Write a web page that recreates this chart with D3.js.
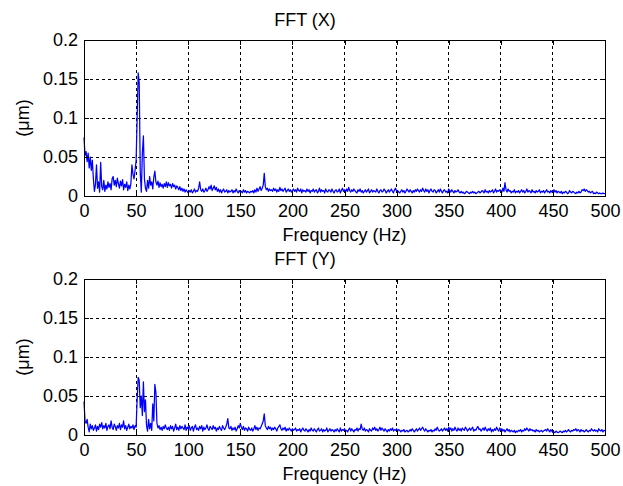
<!DOCTYPE html>
<html>
<head>
<meta charset="utf-8">
<script src="https://cdn.jsdelivr.net/npm/d3@7"></script>
<style>
  html, body { margin: 0; padding: 0; background: #fff; }
  svg { display: block; }
  text { font-family: "Liberation Sans", Arial, sans-serif; fill: #000; }
</style>
</head>
<body>
<svg id="chart" width="623" height="486"></svg>
<script>
// Spectrum amplitudes, one bin per Hz from 0 to 500 Hz, in thousandths of a µm.
const fftX = [
  75,52,57,44,55,36,50,33,46,22, 6,15,40,10,18,5,43,12,8,20,
  6,14,9,18,11,16,8,22,25,14, 20,12,23,16,10,19,13,21,8,15,
  11,18,7,14,9,16,40,28,22,33, 45,100,158,145,30,5,55,77,22,10,
  6,20,10,25,14,18,9,24,32,18, 14,19,11,17,12,15,10,16,12,18,
  11,17,13,15,10,16,12,14,9,13, 11,8,12,7,10,6,9,5,8,6,
  4,7,5,8,4,6,9,5,7,6, 10,18,8,6,9,5,7,10,6,8,
  12,9,14,7,10,13,8,11,6,9, 5,8,4,7,9,5,6,8,4,7,
  5,6,8,4,7,5,9,6,4,7, 5,6,4,8,5,7,4,6,5,4,
  6,5,7,4,8,5,10,6,9,12, 7,10,14,29,12,8,10,6,9,7,
  8,6,10,7,9,5,8,6,11,7, 9,6,8,10,5,7,9,6,8,5,
  7,9,6,8,5,10,7,6,9,4, 8,6,7,5,9,6,8,4,7,6,
  9,5,7,8,4,6,10,5,8,6, 7,4,9,6,5,8,7,5,9,6,
  4,7,8,5,6,9,4,7,10,6, 8,5,9,6,11,7,5,8,6,9,
  7,5,4,8,6,9,5,7,4,6, 8,5,7,9,4,6,8,5,7,6,
  5,9,6,4,7,8,5,6,9,7, 4,6,8,5,7,9,6,4,8,10,
  6,7,5,4,6,8,5,7,4,6, 9,7,5,8,6,4,7,5,8,6,
  9,7,5,8,6,10,7,5,9,6, 8,4,7,9,6,5,8,7,4,6,
  8,5,9,6,4,7,8,5,6,4, 9,7,5,8,6,4,7,5,6,8,
  5,4,6,4,5,3,4,6,5,4, 3,5,4,6,4,5,3,4,5,6,
  4,5,7,6,4,8,5,6,4,7, 5,6,8,4,6,9,5,7,6,8,
  7,5,10,6,17,8,5,9,6,7, 4,6,5,8,4,6,5,7,4,6,
  8,5,7,4,6,9,5,7,6,4, 8,5,6,4,7,5,6,8,4,6,
  5,7,4,6,8,5,6,4,7,5, 6,8,5,7,4,6,5,4,6,3,
  5,4,6,5,3,4,7,5,4,6, 5,4,3,5,4,6,4,5,8,7,
  9,6,8,7,5,6,4,5,6,3, 4,3,5,4,3,4,3,3,4,3,
  3
];

const fftY = [
  43,18,15,20,10,4,14,8,12,6, 9,13,5,11,7,14,10,16,8,12,
  9,15,6,11,13,8,18,10,7,14, 11,6,12,9,15,7,13,10,18,8,
  12,6,10,14,8,11,9,13,7,12, 10,45,74,70,35,50,25,68,30,45,
  12,5,20,8,15,6,40,18,65,55, 15,9,12,7,10,6,11,8,13,9,
  7,10,6,12,8,11,5,9,14,7, 10,6,12,8,11,9,7,13,6,10,
  8,12,6,9,11,5,10,13,7,9, 6,11,8,12,5,10,7,9,13,8,
  6,11,9,7,12,8,10,5,9,7, 11,8,6,12,9,7,10,14,21,9,
  8,11,6,9,7,10,5,8,12,9, 15,10,7,11,6,9,8,5,10,7,
  6,9,5,8,12,7,10,6,9,8, 11,14,18,27,12,9,7,11,8,10,
  6,9,7,10,8,5,9,11,13,8, 6,9,7,10,5,8,6,9,7,5,
  8,6,7,9,5,7,6,8,4,7, 9,6,5,8,6,4,7,5,9,6,
  5,8,6,4,7,9,5,6,8,4, 7,5,6,9,4,6,8,5,7,6,
  4,7,5,8,6,4,9,5,7,6, 8,5,6,4,7,9,5,8,6,4,
  7,6,9,5,8,7,14,8,6,9, 5,7,6,4,8,6,5,9,7,10,
  6,8,5,7,10,6,9,7,5,8, 6,4,7,5,8,6,9,5,7,6,
  8,5,7,6,4,6,5,7,4,5, 6,4,5,7,5,8,6,4,6,8,
  5,7,9,6,8,10,7,5,8,6, 4,6,5,7,4,6,5,8,6,10,
  7,5,6,8,5,7,9,6,8,5, 10,7,9,5,8,6,10,7,5,9,
  6,8,5,9,7,6,10,8,5,7, 9,6,8,10,5,7,6,9,11,7,
  8,5,7,9,6,10,7,5,8,6, 9,4,7,5,8,6,10,7,5,9,
  6,8,5,7,4,6,8,5,7,4, 6,5,4,6,3,5,4,6,5,7,
  4,6,5,8,6,9,7,5,8,6, 7,5,6,4,7,5,6,4,5,6,
  4,5,6,7,5,8,6,4,7,5, 3,4,3,5,4,3,4,5,4,3,
  5,4,6,4,5,7,5,4,6,5, 7,6,8,5,7,6,4,7,5,6,
  4,5,7,5,4,6,5,8,6,5, 7,5,6,4,8,6,5,7,4,6,
  5
];

const freqTicks = [0, 50, 100, 150, 200, 250, 300, 350, 400, 450, 500];
const ampTicks = [0, 0.05, 0.1, 0.15, 0.2];
const ampTickLabels = ["0", "0.05", "0.1", "0.15", "0.2"];
const titles = ["FFT (X)", "FFT (Y)"];
const xLabel = "Frequency (Hz)";
const yLabel = "(\u03bcm)";

const svg = d3.select("#chart");
const left = 84, right = 605;
const panels = [
  { top: 40, bottom: 196, data: fftX, title: titles[0] },
  { top: 279, bottom: 435, data: fftY, title: titles[1] }
];

const x = d3.scaleLinear().domain([0, 500]).range([left, right]);
const fmt = d => ampTickLabels[ampTicks.indexOf(d)];

panels.forEach(p => {
  const y = d3.scaleLinear().domain([0, 0.2]).range([p.bottom, p.top]);
  const g = svg.append("g");

  // dashed grid
  g.append("g").selectAll("line").data(freqTicks.slice(1, -1)).join("line")
    .attr("x1", d => x(d)).attr("x2", d => x(d))
    .attr("y1", p.top).attr("y2", p.bottom)
    .attr("stroke", "#000").attr("stroke-width", 1)
    .attr("stroke-dasharray", "3,3").attr("shape-rendering", "crispEdges");
  g.append("g").selectAll("line").data(ampTicks.slice(1, -1)).join("line")
    .attr("x1", left).attr("x2", right)
    .attr("y1", d => y(d)).attr("y2", d => y(d))
    .attr("stroke", "#000").attr("stroke-width", 1)
    .attr("stroke-dasharray", "3,3").attr("shape-rendering", "crispEdges");

  // spectrum trace
  const line = d3.line()
    .x((d, i) => x(i))
    .y(d => y(d / 1000));
  g.append("path").datum(p.data)
    .attr("d", line)
    .attr("fill", "none")
    .attr("stroke", "#0000ff")
    .attr("stroke-width", 1.25)
    .attr("stroke-linejoin", "round");

  // axes with inward ticks
  const axB = g.append("g").attr("transform", `translate(0,${p.bottom})`)
    .call(d3.axisBottom(x).tickValues(freqTicks).tickSize(-5).tickPadding(8).tickSizeOuter(0));
  const axL = g.append("g").attr("transform", `translate(${left},0)`)
    .call(d3.axisLeft(y).tickValues(ampTicks).tickFormat(fmt).tickSize(-5).tickPadding(6).tickSizeOuter(0));
  const axT = g.append("g").attr("transform", `translate(0,${p.top})`)
    .call(d3.axisTop(x).tickValues(freqTicks).tickSize(-5).tickFormat("").tickSizeOuter(0));
  const axR = g.append("g").attr("transform", `translate(${right},0)`)
    .call(d3.axisRight(y).tickValues(ampTicks).tickSize(-5).tickFormat("").tickSizeOuter(0));
  [axB, axL, axT, axR].forEach(a => {
    a.select(".domain").remove();
    a.selectAll("line").attr("stroke", "#000").attr("shape-rendering", "crispEdges");
    a.selectAll("text").attr("font-size", 18).attr("font-family", "'Liberation Sans', Arial, sans-serif").attr("fill", "#000");
  });

  // axes box
  g.append("rect")
    .attr("x", left).attr("y", p.top)
    .attr("width", right - left).attr("height", p.bottom - p.top)
    .attr("fill", "none").attr("stroke", "#000").attr("stroke-width", 1)
    .attr("shape-rendering", "crispEdges");

  // titles and labels
  g.append("text").attr("x", 305).attr("y", p.top - 14)
    .attr("text-anchor", "middle").attr("font-size", 18).text(p.title);
  g.append("text").attr("x", (left + right) / 2).attr("y", p.bottom + 45)
    .attr("text-anchor", "middle").attr("font-size", 18).text(xLabel);
  g.append("text")
    .attr("transform", `translate(23,${(p.top + p.bottom) / 2}) rotate(-90)`)
    .attr("text-anchor", "middle").attr("dy", "0.35em")
    .attr("font-size", 18).text(yLabel);
});
</script>
</body>
</html>
